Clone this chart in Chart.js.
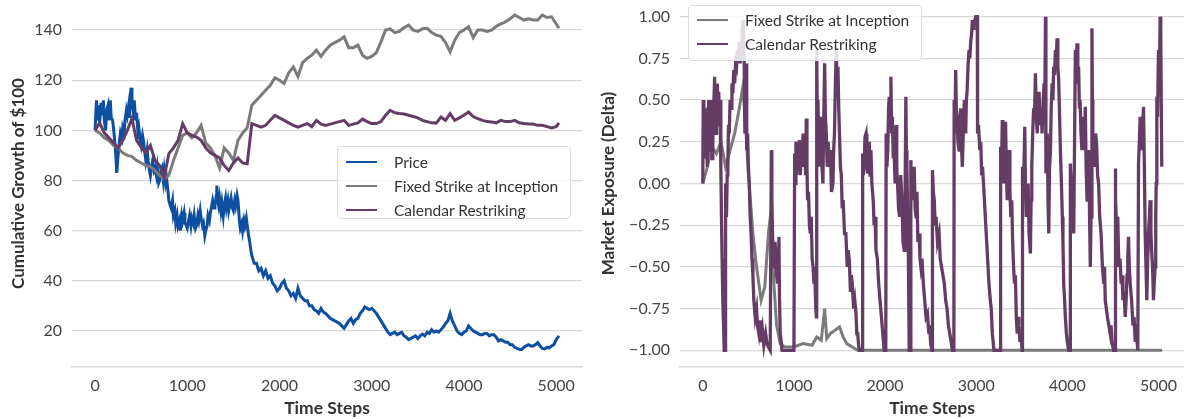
<!DOCTYPE html>
<html>
<head>
<meta charset="utf-8">
<script src="https://cdn.jsdelivr.net/npm/chart.js@4/dist/chart.umd.min.js"></script>
<style>
  body { margin: 0; background: #fff; font-family: Lato, "Open Sans", sans-serif; }
  #wrap { position: relative; width: 1184px; height: 419px; overflow: hidden; }
  .panel { position: absolute; top: 0; height: 419px; }
  .legend {
    position: absolute; background: rgba(255,255,255,0.82);
    border: 1px solid #dcdcdc; border-radius: 4px;
    font-size: 15.5px; color: #333; padding: 3px 8px; box-sizing: border-box;
    white-space: nowrap;
  }
  .legend .row { display: flex; align-items: center; height: 24px; }
  .legend .swatch { flex: none; width: 31px; height: 0; border-top: 2.5px solid; margin-right: 17px; }
</style>
</head>
<body>
<div id="wrap">
  <div class="panel" style="left:0;width:590px"><canvas id="growthChart" width="590" height="419"></canvas></div>
  <div class="panel" style="left:590px;width:594px"><canvas id="deltaChart" width="594" height="419"></canvas></div>

  <div class="legend" style="left:337px;top:146px;width:234px;height:73px">
    <div class="row"><span class="swatch" style="border-color:#0d4fa0"></span>Price</div>
    <div class="row"><span class="swatch" style="border-color:#7b7b7b"></span>Fixed Strike at Inception</div>
    <div class="row"><span class="swatch" style="border-color:#653c66"></span>Calendar Restriking</div>
  </div>
  <div class="legend" style="left:688px;top:5px;width:234px;height:56px;padding-top:2px">
    <div class="row"><span class="swatch" style="border-color:#7b7b7b"></span>Fixed Strike at Inception</div>
    <div class="row"><span class="swatch" style="border-color:#653c66"></span>Calendar Restriking</div>
  </div>
</div>

<script>
// price path, [time step, growth of $100]
const priceGrowth = [
  [0, 100], [15, 112], [25, 104], [40, 110], [50, 103], [65, 111], [75, 106], [90, 112], [100, 104], [115, 100],
  [125, 108], [140, 110], [150, 104], [165, 112], [175, 105], [190, 104], [200, 101], [215, 95], [225, 90], [235, 83],
  [250, 90], [265, 96], [275, 99], [290, 97], [300, 101], [315, 99], [325, 104], [340, 108], [350, 106], [365, 110],
  [375, 105], [390, 117], [400, 113], [415, 108], [425, 112], [440, 104], [450, 107], [465, 99], [475, 101], [490, 96],
  [500, 94], [515, 98], [525, 96], [540, 91], [550, 88], [565, 92], [575, 88], [590, 84], [600, 82], [615, 86],
  [625, 88], [640, 84], [650, 85], [665, 82], [675, 85], [690, 79], [700, 80], [715, 84], [725, 85], [740, 80],
  [750, 84], [765, 79], [775, 81], [790, 76], [800, 72], [815, 70], [825, 69], [840, 72], [850, 66], [865, 68],
  [875, 63], [890, 66], [900, 62], [915, 64], [925, 60], [940, 66], [950, 64], [965, 67], [975, 63], [990, 62],
  [1000, 61], [1015, 64], [1025, 66], [1040, 62], [1050, 65], [1065, 63], [1075, 66], [1090, 61], [1100, 62], [1115, 66],
  [1125, 64], [1140, 68], [1150, 65], [1165, 62], [1175, 63], [1190, 58], [1200, 60], [1215, 62], [1225, 66], [1240, 64],
  [1250, 67], [1265, 70], [1275, 72], [1290, 69], [1300, 70], [1315, 74], [1320, 78], [1330, 72], [1340, 70], [1350, 73],
  [1365, 68], [1375, 71], [1390, 66], [1400, 70], [1415, 73], [1425, 69], [1440, 72], [1450, 68], [1465, 71], [1475, 73],
  [1490, 69], [1500, 68], [1515, 72], [1525, 70], [1540, 74], [1550, 72], [1565, 64], [1575, 61], [1590, 63], [1600, 60],
  [1615, 64], [1625, 62], [1640, 65], [1650, 62], [1665, 58], [1675, 56], [1690, 52], [1700, 50], [1725, 47], [1750, 47],
  [1775, 44], [1800, 45], [1825, 42], [1850, 44], [1875, 41], [1900, 42], [1925, 39], [1950, 38], [1975, 36], [2000, 37],
  [2025, 39], [2050, 40], [2075, 37], [2100, 36], [2125, 34], [2150, 35], [2175, 33], [2200, 37], [2225, 34], [2250, 33],
  [2275, 32], [2300, 32], [2325, 30], [2350, 30], [2375, 28.5], [2400, 28], [2425, 27], [2450, 29], [2475, 27.5], [2500, 27],
  [2525, 26], [2550, 25], [2575, 24.5], [2600, 24], [2625, 23.5], [2650, 23], [2675, 22], [2700, 21], [2725, 22.5], [2750, 24],
  [2775, 25], [2800, 23], [2825, 24.5], [2850, 25], [2875, 27], [2900, 28], [2925, 29.5], [2950, 29], [2975, 28.5], [3000, 29],
  [3025, 28], [3050, 27], [3075, 25.5], [3100, 24], [3125, 22.5], [3150, 21], [3175, 19.5], [3200, 18.5], [3225, 19], [3250, 19.5],
  [3275, 18.5], [3300, 19], [3325, 19.5], [3350, 18], [3375, 17.5], [3400, 16.5], [3425, 17], [3450, 17.5], [3475, 18], [3500, 17],
  [3525, 18], [3550, 18.7], [3575, 18], [3600, 19.5], [3625, 19], [3650, 20.5], [3675, 19.5], [3700, 20], [3725, 19.5], [3750, 20.5],
  [3775, 21.5], [3800, 23], [3825, 24], [3850, 27], [3865, 25], [3875, 24], [3900, 22], [3925, 20], [3950, 19], [3975, 18.5],
  [4000, 19.5], [4025, 20], [4050, 22], [4075, 21], [4100, 20], [4125, 19.5], [4150, 19], [4175, 18.5], [4200, 18.5], [4225, 19],
  [4250, 19], [4275, 18], [4300, 18.5], [4325, 18.5], [4350, 17.5], [4375, 16], [4400, 16.5], [4425, 16], [4450, 15.5], [4475, 15.5],
  [4500, 14.5], [4525, 14.5], [4550, 13.5], [4575, 13], [4600, 12.7], [4625, 12.5], [4650, 13.5], [4675, 14], [4700, 14.5], [4725, 14],
  [4750, 14], [4775, 14.5], [4800, 15.3], [4825, 14], [4850, 13], [4875, 12.8], [4900, 13.5], [4925, 13.2], [4950, 14], [4975, 14.5],
  [5000, 16.5], [5030, 18]
];

// hedged strategies, sampled every 50 steps
const growthSteps = [
  0, 50, 100, 150, 200, 250, 300, 350, 400, 450,
  500, 550, 600, 650, 700, 750, 800, 850, 900, 950,
  1000, 1050, 1100, 1150, 1200, 1250, 1300, 1350, 1400, 1450,
  1500, 1550, 1600, 1650, 1700, 1750, 1800, 1850, 1900, 1950,
  2000, 2050, 2100, 2150, 2200, 2250, 2300, 2350, 2400, 2450,
  2500, 2550, 2600, 2650, 2700, 2750, 2800, 2850, 2900, 2950,
  3000, 3050, 3100, 3150, 3200, 3250, 3300, 3350, 3400, 3450,
  3500, 3550, 3600, 3650, 3700, 3750, 3800, 3850, 3900, 3950,
  4000, 4050, 4100, 4150, 4200, 4250, 4300, 4350, 4400, 4450,
  4500, 4550, 4600, 4650, 4700, 4750, 4800, 4850, 4900, 4950,
  5000, 5030
];
const fixedGrowth = [
  100, 99, 97, 96, 94, 93, 91, 90, 89.5, 88,
  87, 86, 85.5, 84, 82, 80.5, 82, 88, 93, 98,
  99, 97, 99, 102, 95, 93, 90, 85, 93, 91,
  88, 96, 99, 101, 110, 112, 114, 116, 118, 121,
  120, 118.7, 123, 125.3, 121.5, 127, 128.7, 130, 132, 129.5,
  132, 134, 135, 136, 137.3, 133, 133, 134, 130, 128.7,
  129.5, 131, 135.3, 140, 140.5, 139, 139.5, 141, 142, 140,
  139.5, 140.5, 140.7, 139, 138, 137.5, 135, 131.3, 136, 139,
  140, 141.3, 137, 140, 140, 139.5, 140, 141.5, 142.5, 143.3,
  144.5, 146, 145, 144, 144.5, 144, 144, 146, 145, 145.3,
  142.5, 140.7
];
const calendarGrowth = [
  100, 103, 99, 97, 95, 93, 96, 100, 104.7, 96,
  93.3, 91, 94, 88, 86, 81.3, 90.7, 93, 96, 102.7,
  99, 98, 97.3, 96, 93, 91, 90, 89, 86, 84,
  87, 89, 87, 86.7, 102.7, 102, 101.3, 102, 104, 106,
  105, 104, 103, 102, 101.3, 102, 102.7, 101.5, 104, 102.5,
  102, 102.5, 103, 103.5, 104, 102, 102.5, 103, 104.5, 103.5,
  102.7, 102.7, 103.5, 106, 108, 107, 106.7, 106.5, 106, 105.5,
  105, 104, 103.5, 103, 102.9, 105.3, 104, 106.7, 104, 105,
  106, 107.3, 105.5, 104.7, 104, 103.5, 103.3, 103, 104, 103.5,
  103.5, 104, 103, 102.7, 102.5, 102.5, 102, 102, 101.5, 101,
  101.5, 103
];

// market exposure, [time step, delta]
const fixedDelta = [
  [0, 0], [50, 0.1], [100, 0.22], [150, 0.18], [200, 0.25], [250, 0.1], [300, 0.2], [350, 0.3], [400, 0.45], [440, 0.58],
  [470, 0.35], [500, 0.06], [550, -0.3], [590, -0.5], [640, -0.7], [680, -0.62], [720, -0.3], [750, -0.16], [780, -0.6], [810, -0.85],
  [850, -0.96], [900, -0.98], [1000, -0.98], [1100, -0.96], [1200, -0.97], [1250, -0.92], [1300, -0.94], [1337, -0.75], [1360, -0.93], [1400, -0.9],
  [1450, -0.88], [1500, -0.86], [1540, -0.92], [1580, -0.96], [1640, -0.98], [1700, -1], [5040, -1]
];
const calendarDelta = [
  [0, 0], [5, 0.5], [12, 0.3], [20, 0.15], [28, 0.4], [35, 0.45], [42, 0.2], [50, 0.1], [58, 0.45], [65, 0.5],
  [72, 0.25], [80, 0.2], [88, 0.5], [95, 0.4], [102, 0.15], [110, 0.25], [120, 0.45], [130, 0.64], [138, 0.35], [145, 0.3],
  [152, 0.55], [160, 0.6], [168, 0.35], [175, 0.55], [182, 0.4], [190, 0.5], [198, 0.1], [205, -0.2], [212, -0.45], [220, -0.7],
  [228, -0.85], [235, -1], [245, -1],
  [250, 0], [255, -0.15], [260, -0.2], [268, 0.05], [275, 0.1], [282, 0.35], [290, 0.3], [300, 0.5], [310, 0.45], [320, 0.6],
  [330, 0.54], [340, 0.68], [350, 0.6], [360, 0.72], [370, 0.7], [380, 0.8], [390, 0.75], [400, 0.85], [410, 0.72], [420, 0.8],
  [430, 0.9], [445, 0.98], [455, 0.7], [462, 0.3], [468, 0.5], [475, 0.72], [480, 0.45], [485, 0.2], [492, 0.3], [500, 0.1],
  [510, 0], [520, -0.2], [530, -0.3], [540, -0.45], [550, -0.55], [560, -0.7], [575, -0.8], [590, -0.75], [600, -0.85], [615, -0.9],
  [630, -0.82], [640, -0.95], [655, -0.88], [670, -0.97], [690, -0.9], [705, -0.96], [720, -0.98], [740, -1],
  [752, 0.2], [758, -0.1], [765, -0.3], [775, -0.45], [785, -0.5], [792, -0.35], [800, -0.4], [810, -0.55], [820, -0.6], [828, -0.45],
  [835, -0.32], [842, -0.7], [850, -0.9], [860, -0.95], [870, -1], [1000, -1],
  [1008, 0.18], [1015, 0], [1022, 0.25], [1030, 0.05], [1040, 0.2], [1050, 0.1], [1060, 0.26], [1070, 0.05], [1080, 0.2], [1090, 0.1],
  [1100, 0.3], [1110, 0.15], [1120, 0.2], [1128, 0.05], [1136, 0.39], [1143, 0.1], [1150, -0.1], [1160, -0.05], [1170, -0.25], [1180, -0.3],
  [1190, -0.2], [1200, -0.45], [1210, -0.5], [1220, -0.6], [1230, -0.55], [1240, -0.75], [1246, -0.8],
  [1250, 0.8], [1257, 0.3], [1264, 0.5], [1272, 0.2], [1280, 0.35], [1285, 0.1], [1292, 0.4], [1300, 0.3], [1308, 0.1], [1318, 0],
  [1325, 0.3], [1337, 0.72], [1345, 0.4], [1355, 0.3], [1365, 0.1], [1375, 0.25], [1390, 0.1], [1400, 0.2], [1412, -0.05], [1428, 0],
  [1436, 0.2], [1445, 0.3], [1455, 0.6], [1465, 0.82], [1474, 0.55], [1483, 0.7], [1492, 0.45], [1500, 0.3], [1510, 0.1], [1520, 0.05],
  [1530, -0.15], [1540, -0.1], [1555, -0.3], [1570, -0.3], [1585, -0.5], [1595, -0.4], [1608, -0.46], [1620, -0.65], [1630, -0.55], [1640, -0.6],
  [1655, -0.75], [1668, -0.7], [1681, -0.78], [1690, -0.9], [1700, -0.9], [1710, -0.97], [1718, -1], [1750, -1],
  [1754, 0.18], [1762, 0.05], [1770, 0.1], [1780, 0.28], [1791, 0.3], [1800, 0.12], [1810, 0.06], [1818, 0.2], [1827, 0.25], [1835, 0.05],
  [1845, 0.2], [1855, 0], [1870, -0.1], [1880, -0.25], [1890, -0.2], [1900, -0.4], [1915, -0.45], [1930, -0.6], [1945, -0.7], [1960, -0.8],
  [1975, -0.9], [1990, -1], [2008, -1],
  [2012, 0.3], [2020, 0.1], [2030, 0.2], [2038, 0.45], [2046, 0.52], [2055, 0.35], [2064, 0.64], [2072, 0.3], [2080, 0.4], [2090, 0.15],
  [2100, 0.2], [2110, 0], [2120, 0.35], [2128, 0.1], [2137, 0], [2148, -0.15], [2160, -0.2], [2172, 0.05], [2185, -0.1], [2197, -0.35],
  [2210, -0.4], [2218, -0.2], [2228, 0.52], [2234, 0.2], [2240, 0.1], [2248, -0.2], [2255, -0.4], [2260, -0.7], [2265, -1], [2278, -1],
  [2283, 0.14], [2290, -0.05], [2300, -0.1], [2310, 0.05], [2320, 0.1], [2330, -0.15], [2340, -0.2], [2350, -0.05], [2360, -0.35], [2374, -0.3],
  [2383, -0.45], [2393, -0.5], [2405, -0.45], [2420, -0.6], [2435, -0.7], [2450, -0.8], [2465, -0.78], [2480, -0.9], [2490, -0.85], [2500, -0.96],
  [2515, -1],
  [2520, 0.08], [2530, -0.05], [2540, -0.1], [2550, -0.25], [2560, -0.2], [2575, -0.35], [2593, -0.3], [2605, -0.45], [2620, -0.5], [2635, -0.55],
  [2650, -0.6], [2665, -0.7], [2680, -0.75], [2695, -0.85], [2710, -0.9], [2725, -0.95], [2739, -1], [2755, -1],
  [2758, 0.5], [2766, 0.3], [2775, 0.68], [2782, 0.45], [2790, 0.4], [2800, 0.25], [2812, 0.2], [2820, 0.35], [2830, 0.45], [2840, 0.2],
  [2848, 0.1], [2858, 0.3], [2870, 0.5], [2878, 0.35], [2885, 0.3], [2892, 0.5], [2900, 0.55], [2910, 0.7], [2921, 0.8], [2930, 0.75],
  [2940, 0.85], [2950, 0.9], [2958, 0.98], [2965, 0.93], [2975, 0.95], [2985, 0.98], [2995, 1], [3012, 1],
  [3015, 0.3], [3025, 0.35], [3040, 0.2], [3050, 0.25], [3060, 0.05], [3070, 0.1], [3080, 0], [3095, -0.15], [3110, -0.3], [3125, -0.45],
  [3140, -0.6], [3155, -0.7], [3165, -0.75], [3177, -0.9], [3195, -1], [3262, -1],
  [3268, 0.22], [3276, 0], [3286, 0.38], [3293, 0.1], [3300, 0], [3310, 0.3], [3322, 0.37], [3330, 0.1], [3340, -0.1], [3350, 0.15],
  [3360, 0.2], [3370, -0.05], [3380, -0.2], [3390, -0.1], [3400, -0.35], [3410, -0.5], [3420, -0.6], [3430, -0.55], [3440, -0.8], [3450, -0.9],
  [3460, -0.8], [3468, -0.85], [3480, -0.95], [3490, -0.9], [3504, -1],
  [3508, 0.1], [3520, 0], [3533, 0.34], [3540, 0], [3550, -0.2], [3560, -0.1], [3570, 0], [3580, -0.3], [3595, -0.42], [3602, -0.1],
  [3610, 0.1], [3620, 0.3], [3630, 0.45], [3640, 0.4], [3650, 0.66], [3660, 0.4], [3670, 0.3], [3680, 0.5], [3690, 0.55], [3700, 0.35],
  [3712, 0.45], [3723, 0.3], [3735, 0.5], [3745, 0.6], [3752, 0.4], [3760, 1], [3765, 0.06], [3772, 0.2], [3780, 0.3], [3788, -0.1],
  [3796, -0.3], [3805, 0.1], [3815, 0.2], [3823, 0.45], [3833, 0.6], [3842, 0.5], [3850, 0.7], [3860, 0.65], [3869, 0.8], [3878, 0.72],
  [3887, 0.87], [3896, 0.7], [3905, 0.62], [3915, 0.4], [3924, 0.2], [3935, 0], [3945, -0.2], [3952, -0.35], [3960, -0.6], [3970, -0.7],
  [3978, -0.8], [3990, -0.9], [4000, -0.95], [4015, -1], [4030, -1],
  [4033, 0.12], [4042, 0], [4051, -0.1], [4060, 0.05], [4070, -0.3], [4080, 0.3], [4088, 0.8], [4097, 0.7], [4106, 0.84], [4115, 0.6],
  [4124, 0.7], [4132, 0.45], [4140, 0.5], [4150, 0.3], [4160, 0.2], [4170, 0.35], [4179, 0.4], [4188, 0.2], [4197, 0.46], [4206, 0.1],
  [4216, -0.1], [4225, 0.1], [4235, 0.2], [4244, -0.2], [4252, -0.5], [4260, -0.2], [4270, 0.93], [4275, 0.5], [4280, 0.3], [4290, 0.15],
  [4300, 0.1], [4310, 0.3], [4320, 0.25], [4332, 0.05], [4343, 0], [4355, -0.2], [4370, -0.3], [4385, -0.5], [4400, -0.6], [4408, -0.5],
  [4416, -0.7], [4428, -0.75], [4440, -0.8], [4455, -0.85], [4470, -0.9], [4480, -0.85], [4490, -0.95], [4507, -1], [4523, -1],
  [4525, 0.09], [4532, -0.1], [4544, -0.3], [4553, -0.2], [4565, -0.5], [4578, -0.45], [4590, -0.6], [4600, -0.55], [4610, -0.7], [4622, -0.65],
  [4635, -0.8], [4645, -0.7], [4655, -0.55], [4663, -0.45], [4671, -0.32], [4680, -0.5], [4690, -0.6], [4705, -0.7], [4720, -0.85], [4732, -0.8],
  [4745, -0.95], [4758, -0.9], [4773, -1],
  [4781, 0.12], [4790, 0.25], [4799, 0.4], [4808, 0.2], [4818, 0.3], [4827, 0.35], [4836, 0.46], [4845, 0.1], [4854, -0.3], [4863, -0.5],
  [4872, -0.7], [4880, -0.5], [4890, -0.3], [4900, -0.2], [4909, -0.1], [4917, -0.3], [4925, -0.4], [4935, -0.5], [4945, -0.7], [4953, -0.6],
  [4963, -0.5], [4970, -0.2], [4975, 0], [4982, 0.52], [4990, 0.4], [5000, 0.8], [5010, 0.6], [5018, 1], [5025, 0.9], [5036, 0.1]
];

const stepTicks = [0, 1000, 2000, 3000, 4000, 5000];
const growthTicks = [20, 40, 60, 80, 100, 120, 140];
const deltaTicks = [-1, -0.75, -0.5, -0.25, 0, 0.25, 0.5, 0.75, 1];

const BLUE = '#0d4fa0', GREY = '#7b7b7b', PURPLE = '#653c66';
const GRID = '#d9d9d9';
const tickFont = { family: 'Lato', size: 16 };
const yTitleFont = { family: 'Lato', size: 17, weight: 'bold' };
const xTitleFont = { family: 'Lato', size: 17.5, weight: 'bold' };

function toPoints(xs, ys) {
  return xs.map((x, i) => ({ x: x, y: ys[i] }));
}

function pairPoints(pairs) {
  return pairs.map(p => ({ x: p[0], y: p[1] }));
}

function lineSet(label, data, color, order, width) {
  return { label, data, borderColor: color, borderWidth: width || 3, pointRadius: 0, tension: 0, fill: false, order };
}

function fixTicks(values) {
  return function (scale) { scale.ticks = values.map(v => ({ value: v })); };
}

function makeScales(yMin, yMax, yTicks, yTitle, yWidth, yFormat) {
  return {
    x: {
      type: 'linear', min: -250, max: 5280,
      afterBuildTicks: fixTicks(stepTicks),
      afterFit: (s) => { s.height = 52; s.paddingLeft = 0; s.paddingRight = 0; },
      grid: { display: false, drawTicks: false },
      border: { display: true, color: GRID, width: 1.5 },
      ticks: { color: '#444', font: tickFont, padding: 9, maxRotation: 0, callback: v => String(v) },
      title: { display: true, text: 'Time Steps', color: '#333', font: xTitleFont, padding: { top: 0, bottom: 0 } }
    },
    y: {
      min: yMin, max: yMax,
      afterBuildTicks: fixTicks(yTicks),
      afterFit: (s) => { s.width = yWidth; s.paddingTop = 0; s.paddingBottom = 0; },
      grid: { color: GRID, lineWidth: 1.2, drawTicks: false },
      border: { display: false },
      ticks: { color: '#444', font: tickFont, padding: 10, callback: yFormat },
      title: { display: true, text: yTitle, color: '#333', font: yTitleFont, padding: { top: 8, bottom: 0 } }
    }
  };
}

function baseOptions(rightPad) {
  return {
    responsive: false,
    animation: false,
    layout: { padding: { top: 0, left: 0, bottom: 0, right: rightPad } },
    plugins: { legend: { display: false }, tooltip: { enabled: false } }
  };
}

new Chart(document.getElementById('growthChart'), {
  type: 'line',
  data: {
    datasets: [
      lineSet('Price', pairPoints(priceGrowth), BLUE, 3),
      lineSet('Fixed Strike at Inception', toPoints(growthSteps, fixedGrowth), GREY, 2),
      lineSet('Calendar Restriking', toPoints(growthSteps, calendarGrowth), PURPLE, 1)
    ]
  },
  options: Object.assign(baseOptions(8), {
    scales: makeScales(5.6, 152, growthTicks, 'Cumulative Growth of $100', 72, v => String(v))
  })
});

new Chart(document.getElementById('deltaChart'), {
  type: 'line',
  data: {
    datasets: [
      lineSet('Fixed Strike at Inception', pairPoints(fixedDelta), GREY, 2),
      lineSet('Calendar Restriking', pairPoints(calendarDelta), PURPLE, 1, 3.3)
    ]
  },
  options: Object.assign(baseOptions(0), {
    scales: makeScales(-1.1, 1.1, deltaTicks, 'Market Exposure (Delta)', 90, v => v.toFixed(2).replace('-', '\u2212'))
  })
});
</script>
</body>
</html>
